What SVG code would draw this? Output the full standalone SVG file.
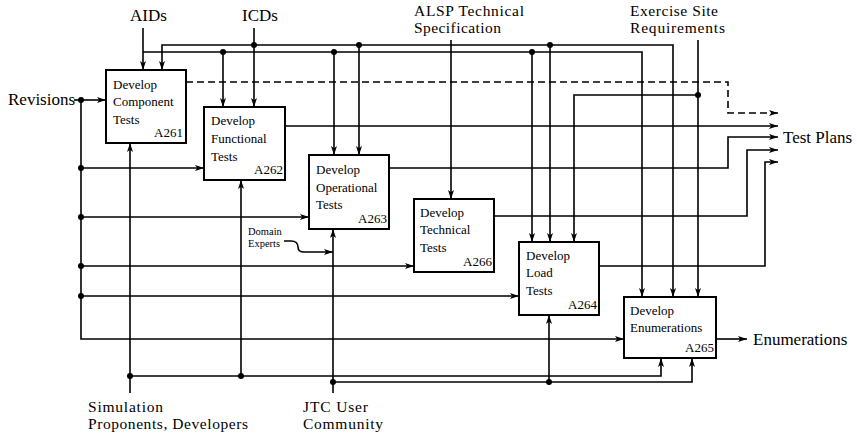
<svg xmlns="http://www.w3.org/2000/svg" width="857" height="436" viewBox="0 0 857 436">
  <style>
    .box { fill: #fff; stroke: #000; stroke-width: 2; }
    .lbl { font-family: "Liberation Serif", "Times New Roman", serif; font-size: 13px; fill: #000; }
    .big { font-family: "Liberation Serif", "Times New Roman", serif; font-size: 17px; fill: #000; }
    .two { font-family: "Liberation Serif", "Times New Roman", serif; font-size: 15.5px; fill: #000; }
    .small { font-family: "Liberation Serif", "Times New Roman", serif; font-size: 10.5px; fill: #000; }
    .ln { fill: none; stroke: #000; stroke-width: 1.6; }
    .arr { marker-end: url(#ah); }
    .dash { stroke-dasharray: 7 4; }
    .dot { fill: #000; }
  </style>
  <defs>
    <marker id="ah" markerUnits="userSpaceOnUse" markerWidth="10" markerHeight="7" refX="9" refY="3" orient="auto" overflow="visible">
      <path d="M0,0 L9,3 L0,6 L2.2,3 z" fill="#000"/>
    </marker>
  </defs>
  <rect width="857" height="436" fill="#fff"/>

  <!-- external labels -->
  <g id="labels">
    <text class="big" x="130" y="21">AIDs</text>
    <text class="big" x="242" y="21">ICDs</text>
    <text class="two" x="414" y="16" textLength="110" lengthAdjust="spacing">ALSP Technical</text>
    <text class="two" x="414" y="33" textLength="87" lengthAdjust="spacing">Specification</text>
    <text class="two" x="630" y="16" textLength="88" lengthAdjust="spacing">Exercise Site</text>
    <text class="two" x="630" y="33" textLength="95" lengthAdjust="spacing">Requirements</text>
    <text class="big" x="8" y="105">Revisions</text>
    <text class="big" x="783" y="143">Test Plans</text>
    <text class="big" x="753" y="345">Enumerations</text>
    <text class="two" x="88" y="412" textLength="75" lengthAdjust="spacing">Simulation</text>
    <text class="two" x="88" y="429" textLength="160" lengthAdjust="spacing">Proponents, Developers</text>
    <text class="two" x="303" y="412" textLength="65" lengthAdjust="spacing">JTC User</text>
    <text class="two" x="303" y="429" textLength="80" lengthAdjust="spacing">Community</text>
    <text class="small" x="248" y="235">Domain</text>
    <text class="small" x="248" y="247">Experts</text>
  </g>

  <!-- connectors -->
  <g id="connectors">
    <!-- controls from above -->
    <path class="ln arr" d="M143,28 V70"/>
    <path class="ln arr" d="M143,52 H642 V297"/>
    <path class="ln arr" d="M254,28 V107"/>
    <path class="ln arr" d="M254,45 H162 V70"/>
    <path class="ln arr" d="M254,45 H673 V297"/>
    <path class="ln arr" d="M223,52 V107"/>
    <path class="ln arr" d="M334,52 V155"/>
    <path class="ln arr" d="M532,52 V242"/>
    <path class="ln arr" d="M359,45 V155"/>
    <path class="ln arr" d="M550,45 V242"/>
    <path class="ln arr" d="M451,40 V199"/>
    <path class="ln arr" d="M698,40 V297"/>
    <path class="ln arr" d="M698,95 H574 V242"/>

    <!-- outputs -->
    <path class="ln arr dash" d="M186,82 H728 V113 H778"/>
    <path class="ln arr" d="M285,126 H778"/>
    <path class="ln arr" d="M389,168 H728 V137 H778"/>
    <path class="ln arr" d="M494,216 H747 V150 H778"/>
    <path class="ln arr" d="M599,266 H765 V162 H778"/>
    <path class="ln arr" d="M716,339 H747"/>

    <!-- inputs from the left -->
    <path class="ln arr" d="M74,100 H106"/>
    <path class="ln arr" d="M81,100 V339 H624"/>
    <path class="ln arr" d="M81,168 H204"/>
    <path class="ln arr" d="M81,217 H309"/>
    <path class="ln arr" d="M81,266 H414"/>
    <path class="ln arr" d="M81,296 H519"/>

    <!-- mechanisms from below -->
    <path class="ln arr" d="M130,393 V143"/>
    <path class="ln arr" d="M130,376 H661 V358"/>
    <path class="ln arr" d="M241,376 V180"/>
    <path class="ln arr" d="M333,393 V229"/>
    <path class="ln arr" d="M333,382 H692 V358"/>
    <path class="ln arr" d="M549,382 V315"/>
    <path class="ln arr" d="M284,241 H291 C296,241 298,244 298,247 C298,250 300,252 304,252 H333"/>

    <!-- junction dots -->
    <circle class="dot" cx="81" cy="100" r="3"/>
    <circle class="dot" cx="81" cy="168" r="3"/>
    <circle class="dot" cx="81" cy="217" r="3"/>
    <circle class="dot" cx="81" cy="266" r="3"/>
    <circle class="dot" cx="81" cy="296" r="3"/>
    <circle class="dot" cx="223" cy="52" r="3"/>
    <circle class="dot" cx="254" cy="45" r="3"/>
    <circle class="dot" cx="334" cy="52" r="3"/>
    <circle class="dot" cx="359" cy="45" r="3"/>
    <circle class="dot" cx="532" cy="52" r="3"/>
    <circle class="dot" cx="550" cy="45" r="3"/>
    <circle class="dot" cx="698" cy="95" r="3"/>
    <circle class="dot" cx="130" cy="376" r="3"/>
    <circle class="dot" cx="241" cy="376" r="3"/>
    <circle class="dot" cx="333" cy="382" r="3"/>
    <circle class="dot" cx="549" cy="382" r="3"/>
  </g>

  <!-- activity boxes -->
  <g id="A261">
    <rect class="box" x="106" y="70" width="80" height="73"/>
    <text class="lbl" x="113" y="89">Develop</text>
    <text class="lbl" x="113" y="106">Component</text>
    <text class="lbl" x="113" y="124">Tests</text>
    <text class="lbl" x="183" y="137" text-anchor="end">A261</text>
  </g>
  <g id="A262">
    <rect class="box" x="204" y="107" width="81" height="73"/>
    <text class="lbl" x="211" y="125">Develop</text>
    <text class="lbl" x="211" y="143">Functional</text>
    <text class="lbl" x="211" y="161">Tests</text>
    <text class="lbl" x="283" y="174" text-anchor="end">A262</text>
  </g>
  <g id="A263">
    <rect class="box" x="309" y="155" width="80" height="74"/>
    <text class="lbl" x="316" y="174">Develop</text>
    <text class="lbl" x="316" y="192">Operational</text>
    <text class="lbl" x="316" y="209">Tests</text>
    <text class="lbl" x="387" y="223" text-anchor="end">A263</text>
  </g>
  <g id="A266">
    <rect class="box" x="414" y="199" width="80" height="73"/>
    <text class="lbl" x="420" y="217">Develop</text>
    <text class="lbl" x="420" y="234">Technical</text>
    <text class="lbl" x="420" y="252">Tests</text>
    <text class="lbl" x="492" y="266" text-anchor="end">A266</text>
  </g>
  <g id="A264">
    <rect class="box" x="519" y="242" width="80" height="73"/>
    <text class="lbl" x="526" y="260">Develop</text>
    <text class="lbl" x="526" y="277">Load</text>
    <text class="lbl" x="526" y="295">Tests</text>
    <text class="lbl" x="597" y="309" text-anchor="end">A264</text>
  </g>
  <g id="A265">
    <rect class="box" x="624" y="297" width="92" height="61"/>
    <text class="lbl" x="630" y="315">Develop</text>
    <text class="lbl" x="630" y="332">Enumerations</text>
    <text class="lbl" x="714" y="352" text-anchor="end">A265</text>
  </g>
</svg>
